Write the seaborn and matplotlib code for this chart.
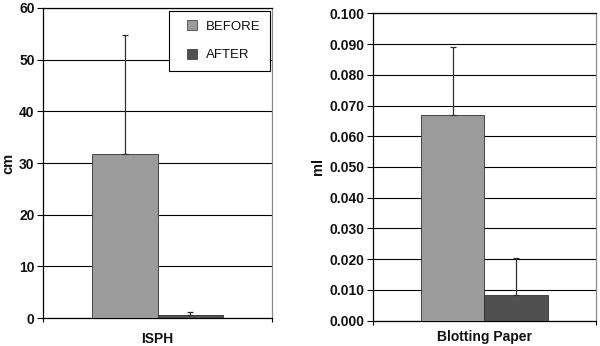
import numpy as np
import pandas as pd
import matplotlib
matplotlib.use("Agg")
import matplotlib.pyplot as plt
from matplotlib.lines import Line2D
from matplotlib.ticker import FormatStrFormatter, FixedLocator
import seaborn as sns

sns.set_theme(style="white")
plt.rcParams["font.family"] = ["Liberation Sans", "DejaVu Sans"]

periods = ["BEFORE", "AFTER"]
colors = ["#9b9b9b", "#505050"]

# Panel 1: ISPH, measured in cm
isph_category = ["ISPH"]
isph_means = [31.8, 0.6]
isph_errors = [23.0, 0.6]

# Panel 2: blotting paper, measured in ml
blot_category = ["Blotting Paper"]
blot_means = [0.067, 0.0083]
blot_errors = [0.022, 0.012]

fig = plt.figure(figsize=(6.0, 3.46), dpi=100)
ax1 = fig.add_axes([0.0717, 0.0809, 0.3817, 0.896])
ax2 = fig.add_axes([0.6212, 0.0731, 0.3722, 0.8885])


def draw_panel(ax, category, means, errors, ylim, step, ylabel, fmt, xpad):
    df = pd.DataFrame({"cat": category * len(periods), "period": periods, "value": means})
    sns.barplot(data=df, x="cat", y="value", hue="period", hue_order=periods,
                palette=colors, width=0.57, errorbar=None, ax=ax,
                edgecolor="#303030", linewidth=0.6, legend=False, zorder=3)
    # upward-only error bars on each bar
    for patch, m, e in zip(ax.patches, means, errors):
        cx = patch.get_x() + patch.get_width() / 2
        ax.errorbar([cx], [m], yerr=[[0], [e]], fmt="none", ecolor="#303030",
                    elinewidth=0.9, capsize=2.5, capthick=0.9, zorder=4)
    ax.set_xlim(-0.5, 0.5)
    ax.set_ylim(*ylim)
    ticks = np.arange(ylim[0], ylim[1] + step / 2, step)
    ax.yaxis.set_major_locator(FixedLocator(ticks))
    ax.yaxis.set_major_formatter(FormatStrFormatter(fmt))
    ax.xaxis.set_minor_locator(FixedLocator([-0.5, 0.5]))
    ax.grid(axis="y", color="black", linewidth=0.8, zorder=0)
    ax.set_axisbelow(True)
    ax.tick_params(axis="y", which="major", left=True, length=4, width=0.8,
                   color="black", labelsize=10, pad=2)
    for lab in ax.get_yticklabels():
        lab.set_fontweight("bold")
        lab.set_color("#111111")
    ax.tick_params(axis="x", which="major", length=0, labelsize=10, pad=xpad)
    ax.tick_params(axis="x", which="minor", bottom=True, length=3, width=0.8, color="black")
    for lab in ax.get_xticklabels():
        lab.set_fontweight("bold")
        lab.set_color("#111111")
    ax.set_xlabel("")
    ax.set_ylabel(ylabel, fontsize=10.5, fontweight="bold", color="#111111", labelpad=3)
    for side in ["left", "bottom", "top"]:
        ax.spines[side].set_color("black")
        ax.spines[side].set_linewidth(0.9)
    ax.spines["right"].set_color("#8a8a8a")
    ax.spines["right"].set_linewidth(0.9)


draw_panel(ax1, isph_category, isph_means, isph_errors, (0, 60), 10, "cm", "%d", 10)
draw_panel(ax2, blot_category, blot_means, blot_errors, (0, 0.1), 0.01, "ml", "%.3f", 7)

handles = [Line2D([], [], marker="s", linestyle="none", markersize=7,
                  markerfacecolor=c, markeredgecolor="#303030", markeredgewidth=0.5)
           for c in colors]
leg = ax1.legend(handles, periods, loc="upper right", bbox_to_anchor=(0.99, 0.99),
                 frameon=True, fancybox=False, fontsize=9.5, labelspacing=1.25,
                 handlelength=2.1, handletextpad=0.0, borderpad=0.7,
                 borderaxespad=0)
leg.get_frame().set_edgecolor("black")
leg.get_frame().set_linewidth(0.8)
leg.get_frame().set_facecolor("white")
leg.get_frame().set_alpha(1)
for t in leg.get_texts():
    t.set_color("#111111")

fig.savefig("out.png", dpi=100)
